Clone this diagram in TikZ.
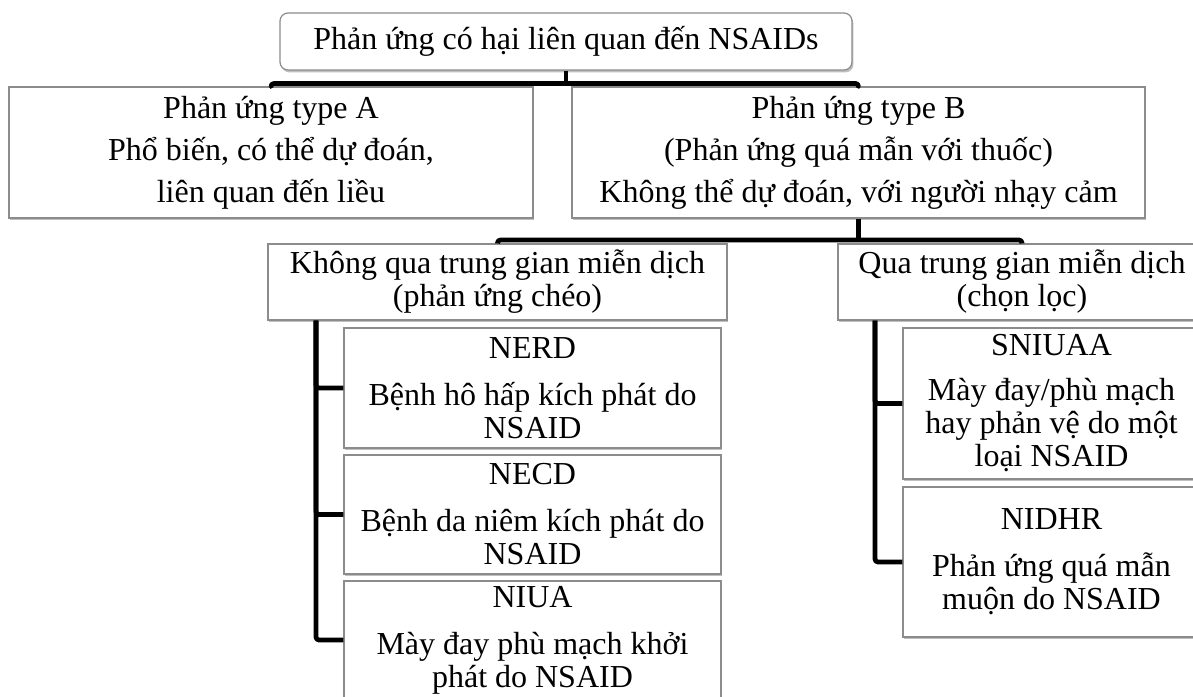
\documentclass[tikz,border=0pt]{standalone}
\usepackage{fontspec}
\setmainfont{Liberation Serif}
\usetikzlibrary{shadows}
\definecolor{boxgray}{RGB}{140,140,140}
\begin{document}
\begin{tikzpicture}[x=0.5pt,y=-0.5pt,
  box/.style={draw=boxgray, line width=0.6pt, fill=white, align=center, inner sep=0pt,
    font=\fontsize{16}{16.5}\selectfont,
    drop shadow={shadow xshift=0.7pt, shadow yshift=-1.2pt, opacity=0.25, fill=black}},
  wide/.style={font=\fontsize{16}{21}\selectfont},
  conn/.style={line width=2.4pt, line join=round, rounded corners=1.5pt},
]
\useasboundingbox (0,0) rectangle (1193,696);
\clip (0,0) rectangle (1193,696);

\node[box, rounded corners=4pt, minimum width=286pt, minimum height=28.5pt] (top) at (566,41.5) {Phản ứng có hại liên quan đến NSAIDs};

\node[box, wide, minimum width=262pt, minimum height=65.5pt] (typeA) at (271,152.5)
  {Phản ứng type A\\Phổ biến, có thể dự đoán,\\liên quan đến liều};
\node[box, wide, minimum width=286.5pt, minimum height=65.5pt] (typeB) at (858.5,152.5)
  {Phản ứng type B\\(Phản ứng quá mẫn với thuốc)\\Không thể dự đoán, với người nhạy cảm};

\node[box, minimum width=229.5pt, minimum height=38pt] (kq) at (497.5,282)
  {Không qua trung gian miễn dịch\\(phản ứng chéo)};
\node[box, minimum width=184pt, minimum height=38pt] (q) at (1022,282)
  {Qua trung gian miễn dịch\\(chọn lọc)};

\node[box, minimum width=188.5pt, minimum height=60pt] (nerd) at (532.5,388)
  {NERD\\[7pt]Bệnh hô hấp kích phát do\\NSAID};
\node[box, minimum width=188.5pt, minimum height=59.5pt] (necd) at (532.5,514.5)
  {NECD\\[7pt]Bệnh da niêm kích phát do\\NSAID};
\node[box, minimum width=188.5pt, minimum height=59pt] (niua) at (532.5,640)
  {NIUA\\[7pt]Mày đay phù mạch khởi\\phát do NSAID};

\node[box, minimum width=148.5pt, minimum height=75.5pt] (sniuaa) at (1051.5,403.5)
  {SNIUAA\\[6pt]Mày đay/phù mạch\\hay phản vệ do một\\loại NSAID};
\node[box, minimum width=148.5pt, minimum height=75pt] (nidhr) at (1051.5,562)
  {NIDHR\\[7pt]Phản ứng quá mẫn\\muộn do NSAID};

% connectors
\coordinate (b1) at (566,83.5);
\draw[conn] (top.south) -- (b1);
\draw[conn] (typeA.north) |- (b1) -| (typeB.north);

\coordinate (b2) at (858.5,240);
\draw[conn] (typeB.south) -- (b2);
\draw[conn] (kq.north) |- (b2) -| (q.north);

\coordinate (kqs) at ([xshift=-90.75pt]kq.south);
\draw[conn] (kqs) |- (nerd.west);
\draw[conn] (kqs) |- (necd.west);
\draw[conn] (kqs) |- (niua.west);

\coordinate (qs) at ([xshift=-73.5pt]q.south);
\draw[conn] (qs) |- (sniuaa.west);
\draw[conn] (qs) |- (nidhr.west);
\end{tikzpicture}
\end{document}
